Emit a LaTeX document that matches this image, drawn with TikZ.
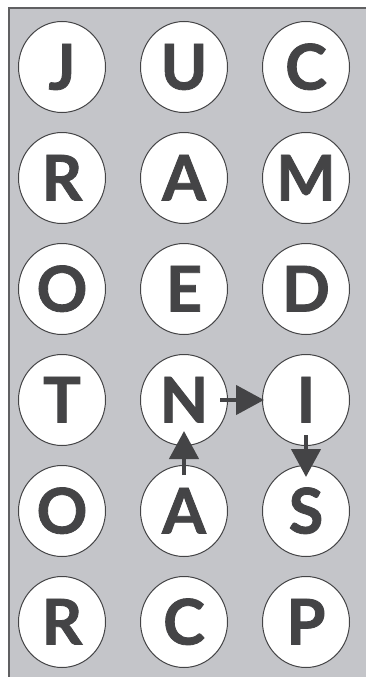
\documentclass[tikz,border=0pt]{standalone}
\usepackage{fontspec}
\setsansfont{Lato}[BoldFeatures={FakeBold=1.3}]
\usetikzlibrary{arrows.meta,shapes.geometric}
\definecolor{bggray}{RGB}{196,197,201}
\definecolor{ink}{RGB}{68,68,70}

\begin{document}
\begin{tikzpicture}[x=1pt,y=-1pt,
  tile/.style={ellipse,draw=ink,line width=1pt,fill=white,minimum width=87pt,minimum height=91pt,inner sep=0pt,
    text=ink,text height=45pt,text depth=0pt,font=\fontsize{63}{63}\selectfont\sffamily\bfseries},
  trail/.style={draw=ink,line width=4.5pt,-{Triangle[length=28pt,width=29pt]}}]
 \useasboundingbox (0,0) rectangle (366,677);
 \fill[bggray] (9,8) rectangle (366,677);
 \draw[ink!85,line width=1.5pt] (9,677)--(9,8)--(366,8);
 % letter grid, row by row
 \foreach \r/\row in {1/{J,U,C},2/{R,A,M},3/{O,E,D},4/{T,N,I},5/{O,A,S},6/{R,C,P}}{
  \foreach \ch [count=\c] in \row {\node[tile] (c\r\c) at ({62+122*(\c-1)},{67+111*(\r-1)}) {\ch};}}
 % the word path A -> N -> I -> S
 \draw[trail,shorten <=-10pt,shorten >=-15pt] (c52.north) -- (c42.south);
 \draw[trail,shorten <=-8pt,shorten >=-2pt] (c42.east) -- (c43.west);
 \draw[trail,shorten <=-11pt,shorten >=-12pt] (c43.south) -- (c53.north);
\end{tikzpicture}
\end{document}
